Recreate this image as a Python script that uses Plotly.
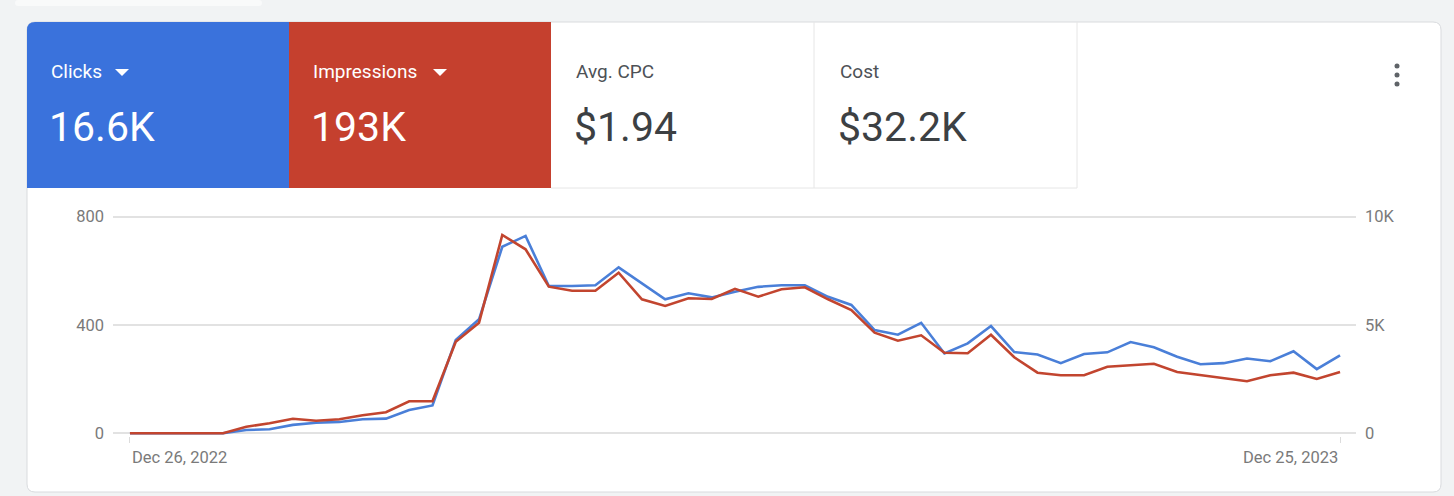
import plotly.graph_objects as go
import pandas as pd

# ---------------- data ----------------
start_date = "2022-12-26"
weeks = pd.date_range(start_date, periods=53, freq="7D")

clicks = [0, 0, 0, 0, 0, 12, 15, 31, 39, 42,
          52, 54, 86, 103, 345, 421, 689, 729, 544, 544,
          547, 613, 554, 495, 517, 502, 523, 541, 547, 547,
          504, 474, 381, 364, 408, 295, 332, 396, 300, 291,
          259, 293, 299, 337, 318, 283, 255, 259, 276, 266,
          303, 237, 288]

impressions = [0, 0, 0, 0, 0, 305, 462, 674, 582, 646,
               831, 970, 1477, 1477, 4229, 5107, 9156, 8495, 6769, 6584,
               6584, 7415, 6187, 5877, 6233, 6200, 6670, 6307, 6648, 6741,
               6187, 5693, 4645, 4275, 4525, 3721, 3694, 4552, 3509, 2798,
               2678, 2678, 3075, 3140, 3213, 2830, 2678, 2539, 2401, 2678,
               2798, 2507, 2830]

left_ticks = [0, 400, 800]
left_labels = ["0", "400", "800"]
right_ticks = [0, 5000, 10000]
right_labels = ["0", "5K", "10K"]
date_labels = ["Dec 26, 2022", "Dec 25, 2023"]

tiles = [
    {"label": "Clicks", "value": "16.6K"},
    {"label": "Impressions", "value": "193K"},
    {"label": "Avg. CPC", "value": "$1.94"},
    {"label": "Cost", "value": "$32.2K"},
]

# ---------------- styling ----------------
W, H = 1454, 496
BLUE_TILE = "#3a72dc"
RED_TILE = "#c5402e"
BLUE_LINE = "#4a7fd8"
RED_LINE = "#c2452f"
GRID = "#e2e2e2"
TICK_TXT = "#7a7a7a"
FONT = "Roboto"


def X(px):
    return px / W


def Y(py):
    return 1 - py / H


def rounded_rect(x0, y0, x1, y1, r, corners=(True, True, True, True)):
    tl, tr, br, bl = corners
    p = []
    p.append(f"M {X(x0 + (r if tl else 0))},{Y(y0)}")
    p.append(f"L {X(x1 - (r if tr else 0))},{Y(y0)}")
    if tr:
        p.append(f"Q {X(x1)},{Y(y0)} {X(x1)},{Y(y0 + r)}")
    p.append(f"L {X(x1)},{Y(y1 - (r if br else 0))}")
    if br:
        p.append(f"Q {X(x1)},{Y(y1)} {X(x1 - r)},{Y(y1)}")
    p.append(f"L {X(x0 + (r if bl else 0))},{Y(y1)}")
    if bl:
        p.append(f"Q {X(x0)},{Y(y1)} {X(x0)},{Y(y1 - r)}")
    p.append(f"L {X(x0)},{Y(y0 + (r if tl else 0))}")
    if tl:
        p.append(f"Q {X(x0)},{Y(y0)} {X(x0 + r)},{Y(y0)}")
    p.append("Z")
    return " ".join(p)


fig = go.Figure()

fig.add_trace(go.Scatter(x=weeks, y=clicks, mode="lines", name="Clicks",
                         line=dict(color=BLUE_LINE, width=2.6), yaxis="y",
                         hoverinfo="x+y"))
fig.add_trace(go.Scatter(x=weeks, y=impressions, mode="lines", name="Impressions",
                         line=dict(color=RED_LINE, width=2.6), yaxis="y2",
                         hoverinfo="x+y"))

shapes = []
# faint white strip at the very top-left
shapes.append(dict(type="path", xref="paper", yref="paper", layer="below",
                   path=rounded_rect(15, 0, 262, 6, 3),
                   fillcolor="rgba(255,255,255,0.55)", line=dict(width=0)))
# card
shapes.append(dict(type="path", xref="paper", yref="paper", layer="below",
                   path=rounded_rect(27, 22, 1441, 492, 8),
                   fillcolor="white", line=dict(color="#d9dbde", width=1)))
# blue tile
shapes.append(dict(type="path", xref="paper", yref="paper", layer="below",
                   path=rounded_rect(27, 22, 289, 188, 8, (True, False, False, False)),
                   fillcolor=BLUE_TILE, line=dict(width=0)))
# red tile
shapes.append(dict(type="rect", xref="paper", yref="paper", layer="below",
                   x0=X(289), x1=X(551), y0=Y(188), y1=Y(22),
                   fillcolor=RED_TILE, line=dict(width=0)))
# borders of white tiles
for xs in (814, 1077):
    shapes.append(dict(type="line", xref="paper", yref="paper", layer="below",
                       x0=X(xs), x1=X(xs), y0=Y(22), y1=Y(188),
                       line=dict(color="#e6e6e6", width=1)))
shapes.append(dict(type="line", xref="paper", yref="paper", layer="below",
                   x0=X(551), x1=X(1077), y0=Y(188), y1=Y(188),
                   line=dict(color="#e6e6e6", width=1)))
# dropdown carets
for cx in (122, 440):
    shapes.append(dict(type="path", xref="paper", yref="paper",
                       path=f"M {X(cx - 7)},{Y(69)} L {X(cx + 7)},{Y(69)} L {X(cx)},{Y(76)} Z",
                       fillcolor="white", line=dict(width=0)))
# kebab menu dots
for cy in (66, 75, 84):
    shapes.append(dict(type="circle", xref="paper", yref="paper",
                       x0=X(1394.5), x1=X(1399.5), y0=Y(cy + 2.5), y1=Y(cy - 2.5),
                       fillcolor="#5f6368", line=dict(width=0)))

annotations = []
tile_x = [49, 311, 574, 838]
for i, t in enumerate(tiles):
    on_color = i < 2
    annotations.append(dict(xref="paper", yref="paper", x=X(tile_x[i]), y=Y(71),
                            xanchor="left", yanchor="middle", showarrow=False,
                            text=t["label"],
                            font=dict(family=FONT, size=19,
                                      color="white" if on_color else "#4d5156")))
    annotations.append(dict(xref="paper", yref="paper", x=X(tile_x[i] - 2), y=Y(127),
                            xanchor="left", yanchor="middle", showarrow=False,
                            text=t["value"],
                            font=dict(family=FONT, size=41,
                                      color="white" if on_color else "#3c4043")))

# x-axis date labels at first and last week
annotations.append(dict(xref="x", yref="paper", x=weeks[0], y=Y(457),
                        xanchor="left", yanchor="middle", showarrow=False,
                        text=date_labels[0],
                        font=dict(family=FONT, size=16.5, color=TICK_TXT)))
annotations.append(dict(xref="x", yref="paper", x=weeks[-1], y=Y(457),
                        xanchor="right", yanchor="middle", showarrow=False,
                        text=date_labels[1],
                        font=dict(family=FONT, size=16.5, color=TICK_TXT)))

x_lo = weeks[0] - pd.Timedelta(days=5.1)
x_hi = weeks[-1] + pd.Timedelta(days=4.8)

y_lo, y_hi = -10, 810
scale = right_ticks[-1] / left_ticks[-1]

fig.update_layout(
    width=W, height=H,
    margin=dict(l=0, r=0, t=0, b=0, pad=0, autoexpand=False),
    paper_bgcolor="#f1f3f4",
    plot_bgcolor="rgba(0,0,0,0)",
    showlegend=False,
    font=dict(family=FONT),
    shapes=shapes,
    annotations=annotations,
    xaxis=dict(domain=[X(113), X(1356)], range=[x_lo, x_hi], type="date",
               showgrid=False, zeroline=False, showline=False,
               tickvals=[weeks[0], weeks[-1]], ticks="outside", ticklen=6,
               tickcolor="#dcdcdc", tickwidth=1, showticklabels=False,
               automargin=False, fixedrange=True),
    yaxis=dict(domain=[1 - 436 / H, 1 - 214 / H], range=[y_lo, y_hi],
               tickvals=left_ticks, ticktext=left_labels,
               showgrid=True, gridcolor=GRID, gridwidth=1.6,
               zeroline=False, showline=False, ticks="",
               ticklabelstandoff=8, automargin=False,
               tickfont=dict(family=FONT, size=16.5, color=TICK_TXT),
               fixedrange=True),
    yaxis2=dict(overlaying="y", side="right", range=[y_lo * scale, y_hi * scale],
                tickvals=right_ticks, ticktext=right_labels,
                showgrid=False, zeroline=False, showline=False, ticks="",
                ticklabelstandoff=8, automargin=False,
                tickfont=dict(family=FONT, size=16.5, color=TICK_TXT),
                fixedrange=True),
)

fig.write_html(
    "out.html",
    config={"displayModeBar": False},
    post_script=(
        "document.body.style.margin='0';document.body.style.padding='0';"
        "document.body.style.overflow='hidden';"
        "document.documentElement.style.overflow='hidden';"
    ),
)
